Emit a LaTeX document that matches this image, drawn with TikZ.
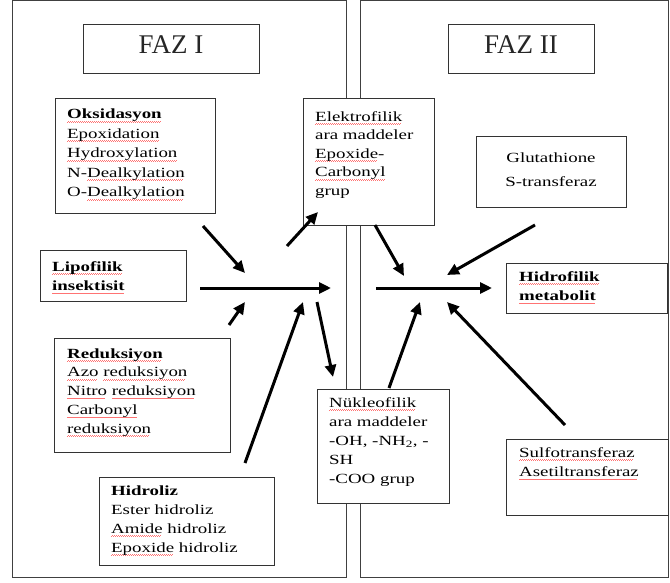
\documentclass[tikz,border=0pt]{standalone}
\usepackage{fontspec}
\usetikzlibrary{arrows.meta}
\newfontfamily\bodyfont{Liberation Serif}[FakeStretch=1.35]
\newfontfamily\fazfont{Liberation Serif}
\newsavebox\sqbox
\newcommand\sq[1]{\sbox\sqbox{#1}\rlap{\color{red!55}\leaders\hbox{\rule[-3.3pt]{0.8pt}{0.5pt}\hskip0.2pt\rule[-2.6pt]{0.8pt}{0.5pt}\hskip0.2pt}\hskip\wd\sqbox}\usebox\sqbox}
\tikzset{
  panel/.style={draw=black!75, line width=0.9pt},
  box/.style={draw=black!80, line width=1.2pt, fill=white, inner sep=0pt, anchor=north west},
  txt/.style={anchor=base west, inner sep=0pt, text=black, font=\bodyfont\fontsize{14}{19.5}\selectfont},
  faztxt/.style={anchor=base, inner sep=0pt, text=black!85, font=\fazfont\fontsize{27}{30}\selectfont},
  arr/.style={line width=3pt, -{Triangle[length=12pt,width=11pt]}}
}
\begin{document}
\begin{tikzpicture}[x=1pt,y=-1pt]
\useasboundingbox (0,0) rectangle (670,582);
% panels
\draw[panel] (12,0.5) rectangle (346.5,577);
\draw[panel] (360.5,0.5) rectangle (668.5,577);
% headers
\node[box, minimum width=176pt, minimum height=49pt] (faz1) at (83,24) {};
\node[faztxt] (faz1T) at (171,53) {FAZ I};
\node[box, minimum width=146pt, minimum height=49pt] (faz2) at (448,24) {};
\node[faztxt] (faz2T) at (521,53) {FAZ II};
% boxes
\node[box, minimum width=160pt, minimum height=115pt] (oks) at (55,98) {};
\node[txt] (oksT) at (67,118.7) {\begin{tabular}[t]{@{}l@{}}\textbf{\sq{Oksidasyon}}\\ \sq{Epoxidation}\\ \sq{Hydroxylation}\\ N-\sq{Dealkylation}\\ O-\sq{Dealkylation}\end{tabular}};
\node[box, minimum width=131pt, minimum height=127pt] (elek) at (303,98) {};
\node[txt, font=\bodyfont\fontsize{14}{18.6}\selectfont] (elekT) at (315,121) {\begin{tabular}[t]{@{}l@{}}\sq{Elektrofilik}\\ ara maddeler\\ \sq{Epoxide}-\\ \sq{Carbonyl}\\ grup\end{tabular}};
\node[box, minimum width=150pt, minimum height=71pt] (glut) at (476,136) {};
\node[txt, anchor=base, font=\bodyfont\fontsize{14}{24}\selectfont] (glutT) at (551,162) {\begin{tabular}[t]{@{}c@{}}Glutathione\\ S-transferaz\end{tabular}};
\node[box, minimum width=146pt, minimum height=51pt] (lipo) at (40,250) {};
\node[txt] (lipoT) at (52,271) {\begin{tabular}[t]{@{}l@{}}\textbf{\sq{Lipofilik}}\\ \textbf{\sq{insektisit}}\end{tabular}};
\node[box, minimum width=176pt, minimum height=114pt] (red) at (54,338) {};
\node[txt, font=\bodyfont\fontsize{14}{18.8}\selectfont] (redT) at (67,358) {\begin{tabular}[t]{@{}l@{}}\textbf{\sq{Reduksiyon}}\\ \sq{Azo} \sq{reduksiyon}\\ \sq{Nitro} \sq{reduksiyon}\\ \sq{Carbonyl}\\ \sq{reduksiyon}\end{tabular}};
\node[box, minimum width=175pt, minimum height=88pt] (hid) at (99,477) {};
\node[txt, font=\bodyfont\fontsize{14}{19}\selectfont] (hidT) at (111,495) {\begin{tabular}[t]{@{}l@{}}\textbf{Hidroliz}\\ Ester hidroliz\\ \sq{Amide} hidroliz\\ \sq{Epoxide} hidroliz\end{tabular}};
\node[box, minimum width=132pt, minimum height=114pt] (nuk) at (317,389) {};
\node[txt, font=\bodyfont\fontsize{14}{19}\selectfont] (nukT) at (329,407) {\begin{tabular}[t]{@{}l@{}}\sq{Nükleofilik}\\ ara maddeler\\ -OH, -NH\textsubscript{2}, -\\ SH\\ -COO grup\end{tabular}};
\node[box, minimum width=161pt, minimum height=50pt] (hidro) at (506,263) {};
\node[txt] (hidroT) at (519,281) {\begin{tabular}[t]{@{}l@{}}\textbf{\sq{Hidrofilik}}\\ \textbf{\sq{metabolit}}\end{tabular}};
\node[box, minimum width=162pt, minimum height=76pt] (sulfo) at (506,439) {};
\node[txt] (sulfoT) at (519,457) {\begin{tabular}[t]{@{}l@{}}\sq{Sulfotransferaz}\\ \sq{Asetiltransferaz}\end{tabular}};
% arrow end points
\coordinate (a1s) at (203,226); \coordinate (a1e) at (245,273);
\coordinate (a2s) at (287,246); \coordinate (a2e) at (318,212);
\coordinate (a3s) at (229,325); \coordinate (a3e) at (245,302);
\coordinate (a4s) at (245,463); \coordinate (a4e) at (303,302);
\coordinate (a5s) at (200,288); \coordinate (a5e) at (331,288);
\coordinate (a6s) at (317,302); \coordinate (a6e) at (333,377);
\coordinate (a7s) at (375,225); \coordinate (a7e) at (404,276);
\coordinate (a8s) at (535,225); \coordinate (a8e) at (447,275);
\coordinate (a9s) at (376,288); \coordinate (a9e) at (492,288);
\coordinate (a10s) at (389,388); \coordinate (a10e) at (420,302);
\coordinate (a11s) at (565,425); \coordinate (a11e) at (447,302);
\foreach \i in {1,...,11}{\draw[arr] (a\i s) -- (a\i e);}
\end{tikzpicture}
\end{document}
